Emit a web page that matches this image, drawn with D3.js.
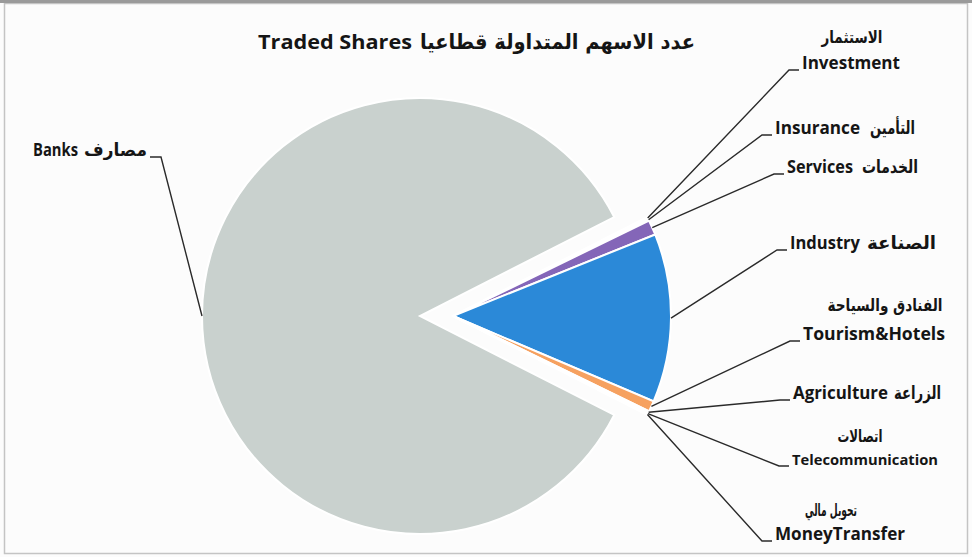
<!DOCTYPE html>
<html>
<head>
<meta charset="utf-8">
<script src="https://cdn.jsdelivr.net/npm/d3@7"></script>
<style>
  html, body { margin: 0; padding: 0; background: #fff; }
  svg { display: block; }
</style>
</head>
<body>
<script>
// sector names and traded shares (percent of total)
const sectors = ["Investment", "Insurance", "Services", "Industry", "Tourism&Hotels", "Agriculture", "Telecommunication", "MoneyTransfer", "Banks"];
const sectorsAr = ["الاستثمار", "التأمين", "الخدمات", "الصناعة", "الفنادق والسياحة", "الزراعة", "اتصالات", "تحويل مالي", "مصارف"];
const shares = [0.15, 0.15, 1.1, 12.5, 0.8, 0.15, 0.08, 0.07, 85];

const colors = ["#c7b6e3", "#a68fd0", "#8466b8", "#2b89d8", "#f6a160", "#ecc4dd", "#dcc8ea", "#efd9ea", "#c9d1ce"];

// label layout: x/y = english text start and baseline, w = english width,
// arabic part either inline (after english) or stacked above (centred on arX)
const labelLayout = [
    { x: 802, y: 69, w: 98, stacked: true, arX: 852, arY: 43, arW: 61 },
    { x: 775, y: 134, w: 85, arGap: 10, arW: 45 },
    { x: 787, y: 173, w: 66, arGap: 9, arW: 56 },
    { x: 790, y: 249, w: 70, arGap: 7, arW: 69 },
    { x: 803, y: 340, w: 142, stacked: true, arX: 885, arY: 311, arW: 115 },
    { x: 793, y: 399, w: 95, arGap: 6, arW: 47 },
    { x: 792, y: 465, w: 146, stacked: true, arX: 860, arY: 442, arW: 45, small: true },
    { x: 775, y: 540, w: 130, stacked: true, arX: 831, arY: 516, arW: 52 },
    { x: 33, y: 156, w: 45, arGap: 6, arW: 63, left: true }
];

const width = 972;
const height = 557;
const cx = 453, cy = 316;
const radius = 218;
const explode = 33;
const latinFont = "'Open Sans', Lato, sans-serif";
const arabicFont = "'DejaVu Sans', sans-serif";

const svg = d3.select("body").append("svg")
    .attr("width", width)
    .attr("height", height);

svg.append("rect")
    .attr("width", width)
    .attr("height", height)
    .attr("fill", "#fcfcfc");

// frame
svg.append("rect")
    .attr("x", 4.5).attr("y", 3.5)
    .attr("width", 963).attr("height", 550)
    .attr("fill", "none")
    .attr("stroke", "#c4c4c4")
    .attr("stroke-width", 1.5);
svg.append("rect")
    .attr("x", 0).attr("y", 0)
    .attr("width", width).attr("height", 3)
    .attr("fill", "#9a9a9a");

const deg = Math.PI / 180;
const pie = d3.pie().sort(null).value(d => d)
    .startAngle(63 * deg).endAngle(423 * deg);
const arcs = pie(shares);

const arc = d3.arc().innerRadius(0).outerRadius(radius);
const edgeArc = d3.arc().innerRadius(radius).outerRadius(radius);

// only Banks is pulled out
function offset(d, i) {
    const e = sectors[i] === "Banks" ? explode : 0;
    const a = (d.startAngle + d.endAngle) / 2;
    return [Math.sin(a) * e, -Math.cos(a) * e];
}

const g = svg.append("g").attr("transform", `translate(${cx},${cy})`);

g.selectAll("path.slice")
    .data(arcs)
    .join("path")
    .attr("class", "slice")
    .attr("d", arc)
    .attr("transform", (d, i) => `translate(${offset(d, i)})`)
    .attr("fill", (d, i) => colors[i])
    .attr("stroke", "#fff")
    .attr("stroke-width", 2);

// leader lines
const leaders = svg.append("g");
arcs.forEach((d, i) => {
    const L = labelLayout[i];
    const o = offset(d, i);
    const p = edgeArc.centroid(d);
    const px = cx + p[0] + o[0], py = cy + p[1] + o[1];
    const ly = L.y + 1;
    let pts;
    if (L.left) {
        const endX = L.x + L.w + L.arGap + L.arW;
        pts = [[px, py], [endX + 14, ly], [endX + 3, ly]];
    } else {
        pts = [[px, py], [L.x - 13, ly], [L.x - 3, ly]];
    }
    leaders.append("path")
        .attr("d", d3.line()(pts))
        .attr("fill", "none")
        .attr("stroke", "#2a2a2a")
        .attr("stroke-width", 1.4);
});

// labels
const labels = svg.append("g")
    .attr("font-weight", "bold")
    .attr("fill", "#151515");

labelLayout.forEach((L, i) => {
    const size = L.small ? 14 : 17;
    labels.append("text")
        .attr("x", L.x).attr("y", L.y)
        .attr("font-family", latinFont)
        .attr("font-size", size)
        .attr("textLength", L.w)
        .attr("lengthAdjust", "spacingAndGlyphs")
        .text(sectors[i]);
    const ar = labels.append("text")
        .attr("font-family", arabicFont)
        .attr("font-size", L.stacked ? 17 : 18)
        .attr("textLength", L.arW)
        .attr("lengthAdjust", "spacingAndGlyphs")
        .text(sectorsAr[i]);
    if (L.stacked) {
        ar.attr("x", L.arX - L.arW / 2).attr("y", L.arY);
    } else {
        ar.attr("x", L.x + L.w + L.arGap).attr("y", L.y);
    }
});

// title
const title = svg.append("g")
    .attr("font-weight", "bold")
    .attr("fill", "#151515");
title.append("text")
    .attr("x", 258).attr("y", 49)
    .attr("font-family", latinFont)
    .attr("font-size", 19)
    .attr("textLength", 154)
    .attr("lengthAdjust", "spacingAndGlyphs")
    .text("Traded Shares");
title.append("text")
    .attr("x", 420).attr("y", 49)
    .attr("font-family", arabicFont)
    .attr("font-size", 21)
    .attr("textLength", 275)
    .attr("lengthAdjust", "spacingAndGlyphs")
    .text("عدد الاسهم المتداولة قطاعيا");
</script>
</body>
</html>
